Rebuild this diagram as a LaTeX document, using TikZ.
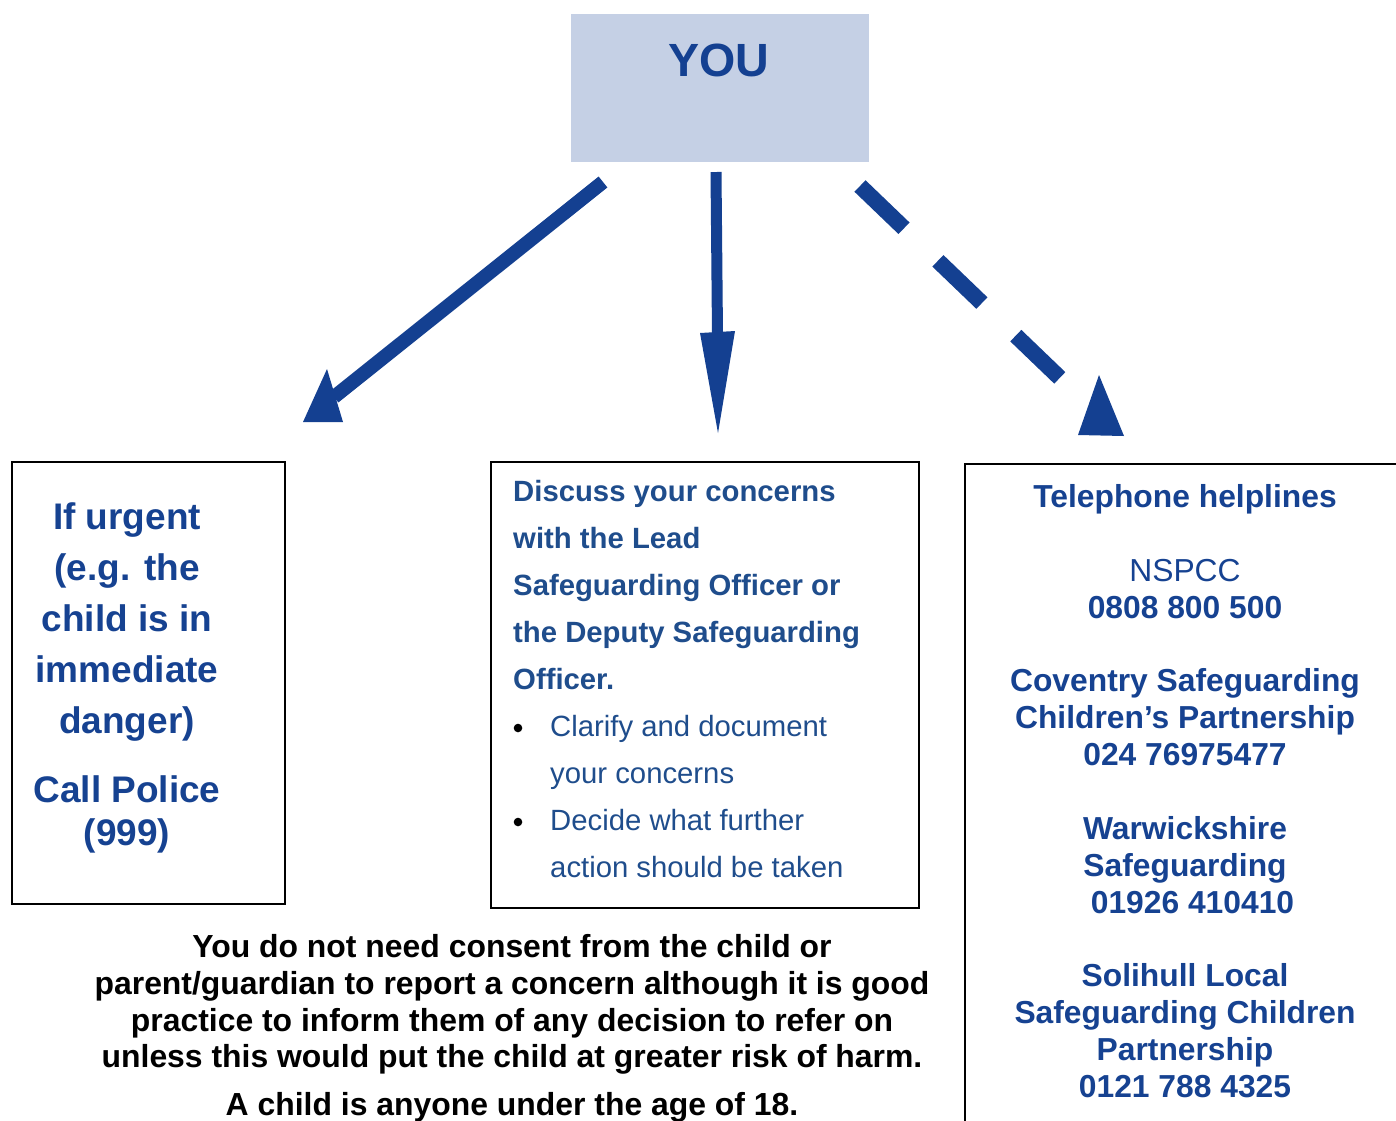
\documentclass[tikz,border=0pt]{standalone}
\usepackage{fontspec}
\setmainfont{Liberation Sans}
\definecolor{arrowblue}{RGB}{20,64,145}
\definecolor{txtblue}{RGB}{22,66,145}
\definecolor{midblue}{RGB}{31,77,140}
\definecolor{youfill}{RGB}{197,208,229}
\tikzset{
  boxline/.style={draw=black, line width=2pt},
  lefttxt/.style={anchor=base, inner sep=0pt, text=txtblue, font=\fontsize{37}{44}\selectfont\bfseries},
  midb/.style={anchor=base west, inner sep=0pt, text=midblue, font=\fontsize{29.3}{35}\selectfont\bfseries},
  midr/.style={anchor=base west, inner sep=0pt, text=midblue, font=\fontsize{29.3}{35}\selectfont},
  righttxt/.style={anchor=base, inner sep=0pt, text=txtblue, font=\fontsize{31.8}{37}\selectfont\bfseries},
  rightreg/.style={anchor=base, inner sep=0pt, text=txtblue, font=\fontsize{31.8}{37}\selectfont},
  bottxt/.style={anchor=base, inner sep=0pt, text=black, font=\fontsize{31.9}{37}\selectfont\bfseries},
  shaft/.style={draw=arrowblue, line cap=butt},
  head/.style={fill=arrowblue},
}
\begin{document}
\begin{tikzpicture}[x=1pt,y=-1pt]
\useasboundingbox (0,0) rectangle (1396,1120);
% YOU box
\node[fill=youfill, minimum width=298pt, minimum height=148pt, inner sep=0pt] (you) at (720,88) {};
\node[anchor=base, inner sep=0pt, text=arrowblue, font=\fontsize{46.6}{50}\selectfont\bfseries] (youtxt) at (719,76) {YOU};

% boxes
\node[boxline, minimum width=273pt, minimum height=442pt, inner sep=0pt] (lbox) at (148.5,683) {};
\node[boxline, minimum width=428pt, minimum height=446pt, inner sep=0pt] (mbox) at (705,685) {};
\coordinate (rb1) at (965,1130);
\coordinate (rb2) at (965,464);
\coordinate (rb3) at (1410,464);
\draw[line width=2pt] (rb1) -- (rb2) -- (rb3);

% left arrow
\coordinate (la) at (603,182);
\coordinate (lb) at (334,397);
\draw[shaft, line width=14pt] (la) -- (lb);
\coordinate (lh1) at (327,369);
\coordinate (lh2) at (303,422);
\coordinate (lh3) at (343,422);
\fill[head] (lh1) -- (lh2) -- (lh3) -- cycle;

% middle arrow
\coordinate (ma) at (716,172);
\coordinate (mb) at (717.5,336);
\draw[shaft, line width=11pt] (ma) -- (mb);
\coordinate (mh1) at (700,333);
\coordinate (mh2) at (735,331);
\coordinate (mh3) at (718,433);
\fill[head] (mh1) -- (mh2) -- (mh3) -- cycle;

% right dashed arrow
\coordinate (ra) at (860,186);
\coordinate (rbb) at (1062,380);
\draw[shaft, line width=16pt, dash pattern=on 61pt off 47pt] (ra) -- (rbb);
\coordinate (rh1) at (1099,375);
\coordinate (rh2) at (1078,435);
\coordinate (rh3) at (1124,436);
\fill[head] (rh1) -- (rh2) -- (rh3) -- cycle;

% left box text
\node[lefttxt] (l1) at (127,529) {If urgent};
\node[lefttxt] (l2) at (127,580) {(e.g. the};
\node[lefttxt] (l3) at (127,631) {child is in};
\node[lefttxt] (l4) at (127,682) {immediate};
\node[lefttxt] (l5) at (127,733) {danger)};
\node[lefttxt] (l6) at (127,802) {Call Police};
\node[lefttxt] (l7) at (127,845) {(999)};

% middle box text
\node[midb] (m1) at (513,501) {Discuss your concerns};
\node[midb] (m2) at (513,548) {with the Lead};
\node[midb] (m3) at (513,595) {Safeguarding Officer or};
\node[midb] (m4) at (513,642) {the Deputy Safeguarding};
\node[midb] (m5) at (513,689) {Officer.};
\fill[black] (518,728) circle (4.3);
\node[midr] (m6) at (550,736) {Clarify and document};
\node[midr] (m7) at (550,783) {your concerns};
\fill[black] (518,822) circle (4.3);
\node[midr] (m8) at (550,830) {Decide what further};
\node[midr] (m9) at (550,877) {action should be taken};

% right box text
\node[righttxt] (r1) at (1185,507) {Telephone helplines};
\node[rightreg] (r2) at (1185,581) {NSPCC};
\node[righttxt] (r3) at (1185,618) {0808 800 500};
\node[righttxt] (r4) at (1185,691.5) {Coventry Safeguarding};
\node[righttxt] (r5) at (1185,728.5) {Children’s Partnership};
\node[righttxt] (r6) at (1185,765.5) {024 76975477};
\node[righttxt] (r7) at (1185,839.5) {Warwickshire};
\node[righttxt] (r8) at (1185,876.5) {Safeguarding};
\node[righttxt] (r9) at (1192.5,913) {01926 410410};
\node[righttxt] (r10) at (1185,986.5) {Solihull Local};
\node[righttxt] (r11) at (1185,1023.5) {Safeguarding Children};
\node[righttxt] (r12) at (1185,1060.5) {Partnership};
\node[righttxt] (r13) at (1185,1097.5) {0121 788 4325};

% bottom text
\node[bottxt] (b1) at (512,957.5) {You do not need consent from the child or};
\node[bottxt] (b2) at (512,994.5) {parent/guardian to report a concern although it is good};
\node[bottxt] (b3) at (512,1031.5) {practice to inform them of any decision to refer on};
\node[bottxt] (b4) at (512,1067.5) {unless this would put the child at greater risk of harm.};
\node[bottxt] (b5) at (512,1115.5) {A child is anyone under the age of 18.};
\end{tikzpicture}
\end{document}
